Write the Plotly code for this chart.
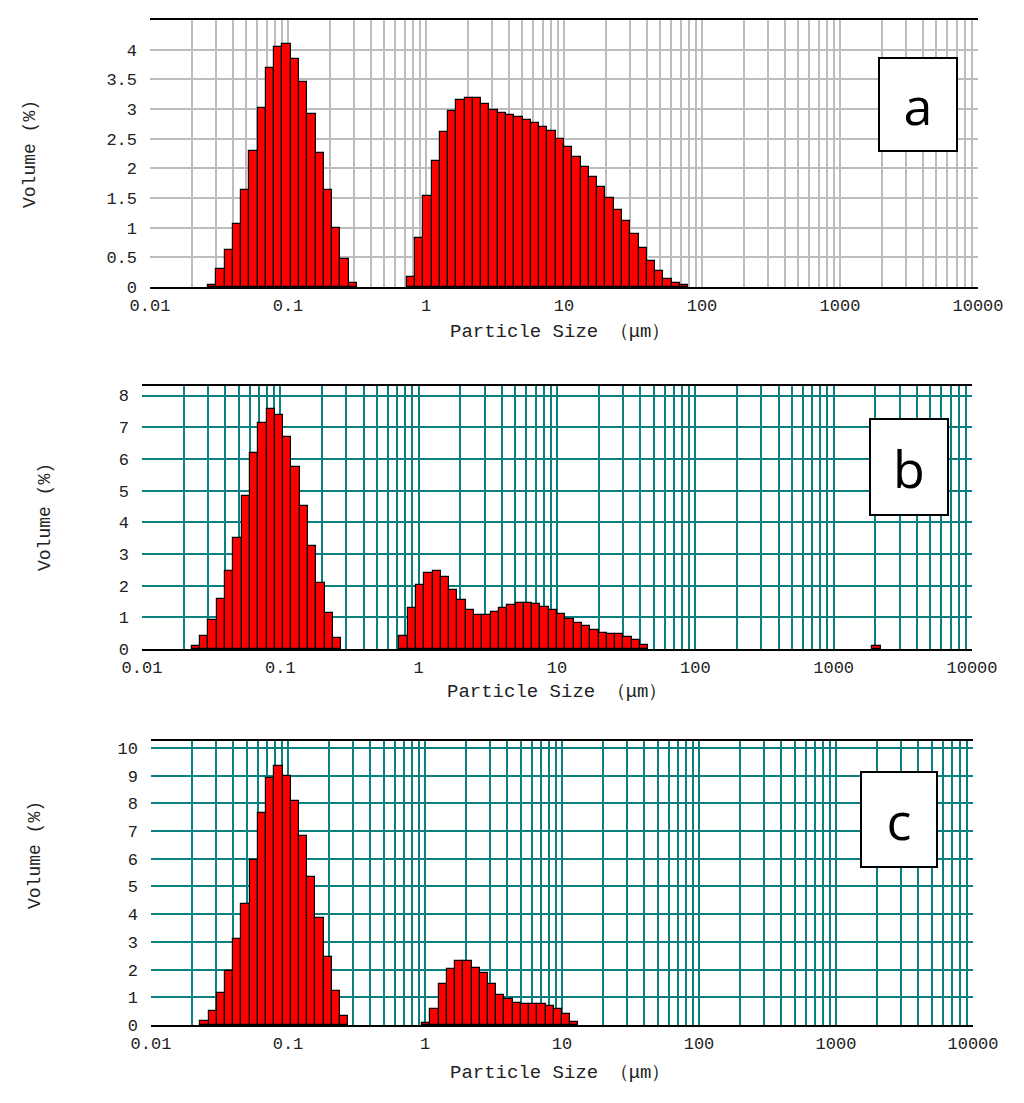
import math
import plotly.graph_objects as go

# ---- instrument size classes: 100 log-uniform bins from 0.01 to 10000 um ----
BIN_LOG_START = -2.0
BIN_LOG_STEP = 0.06
N_BINS = 100

# ---- volume (%) per size class ----
vol_a = ([0] * 7 +
         [0.03, 0.31, 0.63, 1.07, 1.63, 2.29, 3.02, 3.69, 4.04, 4.09, 3.85, 3.46,
          2.92, 2.26, 1.63, 1.00, 0.48, 0.07] +
         [0] * 6 +
         [0.17, 0.83, 1.53, 2.12, 2.62, 2.96, 3.16, 3.19, 3.19, 3.09, 2.99, 2.93,
          2.90, 2.87, 2.82, 2.76, 2.70, 2.63, 2.49, 2.36, 2.19, 2.02, 1.85, 1.69,
          1.50, 1.29, 1.12, 0.90, 0.65, 0.43, 0.27, 0.13, 0.07, 0.03] +
         [0] * 35)

vol_b = ([0] * 6 +
         [0.08, 0.40, 0.91, 1.59, 2.45, 3.51, 4.82, 6.19, 7.14, 7.56, 7.37, 6.68,
          5.75, 4.51, 3.26, 2.08, 1.14, 0.35] +
         [0] * 7 +
         [0.40, 1.28, 2.03, 2.40, 2.47, 2.26, 1.86, 1.54, 1.22, 1.08, 1.08, 1.17,
          1.29, 1.40, 1.46, 1.46, 1.41, 1.34, 1.23, 1.12, 0.96, 0.83, 0.72, 0.59,
          0.51, 0.46, 0.46, 0.38, 0.28, 0.14] +
         [0] * 27 +
         [0.08] +
         [0] * 11)

vol_c = ([0] * 6 +
         [0.16, 0.51, 1.14, 1.96, 3.11, 4.36, 5.96, 7.65, 8.92, 9.34, 8.98, 8.07,
          6.81, 5.33, 3.88, 2.45, 1.24, 0.34] +
         [0] * 9 +
         [0.08, 0.57, 1.47, 2.01, 2.31, 2.31, 2.07, 1.86, 1.47, 1.10, 0.93, 0.81,
          0.75, 0.75, 0.75, 0.69, 0.57, 0.40, 0.10] +
         [0] * 48)

panel_letters = ["a", "b", "c"]
y_max = [4.5, 8.3, 10.25]
y_ticks = [[0, 0.5, 1, 1.5, 2, 2.5, 3, 3.5, 4],
           [0, 1, 2, 3, 4, 5, 6, 7, 8],
           [0, 1, 2, 3, 4, 5, 6, 7, 8, 9, 10]]
y_ticklabels = [["0", "0.5", "1", "1.5", "2", "2.5", "3", "3.5", "4"],
                ["0", "1", "2", "3", "4", "5", "6", "7", "8"],
                ["0", "1", "2", "3", "4", "5", "6", "7", "8", "9", "10"]]
decade_labels = ["0.01", "0.1", "1", "10", "100", "1000", "10000"]
x_title = "Particle Size （μm）"
y_title = "Volume (%)"

# ---- layout geometry (pixels in a 1024 x 1103 page) ----
W, H = 1024, 1103
panels = [
    dict(x0=150, x1=978, y0=20, y1=287, grid="#bdbdbd", box=(878, 958, 57, 152),
         ytitle=(30, 154), xtitle=(560, 332)),
    dict(x0=142, x1=972, y0=386, y1=649, grid="#0b8080", box=(869, 949, 418, 516),
         ytitle=(45, 517), xtitle=(557, 692)),
    dict(x0=151, x1=973, y0=741, y1=1025, grid="#0b8080", box=(860, 938, 771, 868),
         ytitle=(35, 855), xtitle=(560, 1073)),
]

bin_centers = [BIN_LOG_START + BIN_LOG_STEP * (i + 0.5) for i in range(N_BINS)]

# log grid: 1..9 per decade
tickvals, ticktext = [], []
for e in range(-2, 4):
    for m in range(1, 10):
        tickvals.append(e + math.log10(m))
        ticktext.append(decade_labels[e + 2] if m == 1 else "")
tickvals.append(4.0)
ticktext.append(decade_labels[-1])

mono = "Liberation Mono"
fig = go.Figure()
series = [vol_a, vol_b, vol_c]

for i, (vals, p) in enumerate(zip(series, panels)):
    xs = [c for c, v in zip(bin_centers, vals) if v > 0]
    ys = [v for v in vals if v > 0]
    xa = "x" if i == 0 else f"x{i+1}"
    ya = "y" if i == 0 else f"y{i+1}"
    fig.add_trace(go.Bar(
        x=xs, y=ys, width=BIN_LOG_STEP, xaxis=xa, yaxis=ya,
        marker=dict(color="#ff0000", line=dict(color="#000000", width=1.2)),
        showlegend=False, hoverinfo="x+y"))

    xkey = "xaxis" if i == 0 else f"xaxis{i+1}"
    ykey = "yaxis" if i == 0 else f"yaxis{i+1}"
    fig.layout[xkey] = dict(
        domain=[p["x0"] / W, p["x1"] / W], anchor=ya, automargin=False,
        range=[-2, 4], tickmode="array", tickvals=tickvals, ticktext=ticktext,
        showgrid=True, gridcolor=p["grid"], gridwidth=1.6,
        showline=True, linecolor="#000000", linewidth=2, mirror=True,
        ticks="", zeroline=False, ticklabelstandoff=2,
        tickfont=dict(family=mono, size=17, color="#222222"))
    fig.layout[ykey] = dict(
        domain=[1 - p["y1"] / H, 1 - p["y0"] / H], anchor=xa, automargin=False,
        range=[0, y_max[i]], tickmode="array", tickvals=y_ticks[i],
        ticktext=y_ticklabels[i],
        showgrid=True, gridcolor=p["grid"], gridwidth=1.6,
        showline=False, zeroline=False, ticks="", ticklabelstandoff=12,
        tickfont=dict(family=mono, size=17, color="#222222"))

annotations = []
for i, p in enumerate(panels):
    bx0, bx1, by0, by1 = p["box"]
    annotations.append(dict(
        xref="paper", yref="paper", x=(bx0 + bx1) / 2 / W, y=1 - (by0 + by1) / 2 / H,
        xanchor="center", yanchor="middle", text=panel_letters[i], showarrow=False,
        width=bx1 - bx0 - 4, height=by1 - by0 - 4, bgcolor="#ffffff",
        bordercolor="#000000", borderwidth=2, borderpad=0,
        font=dict(family="Open Sans", size=52, color="#000000")))
    annotations.append(dict(
        xref="paper", yref="paper", x=p["ytitle"][0] / W, y=1 - p["ytitle"][1] / H,
        xanchor="center", yanchor="middle", text=y_title, textangle=-90,
        showarrow=False, font=dict(family=mono, size=18, color="#222222")))
    annotations.append(dict(
        xref="paper", yref="paper", x=p["xtitle"][0] / W, y=1 - p["xtitle"][1] / H,
        xanchor="center", yanchor="middle", text=x_title,
        showarrow=False, font=dict(family=mono, size=19, color="#222222")))

fig.update_layout(
    width=W, height=H, margin=dict(l=0, r=0, t=0, b=0),
    paper_bgcolor="#ffffff", plot_bgcolor="#ffffff",
    bargap=0, annotations=annotations)

fig.write_html("out.html", config={"displayModeBar": False},
               post_script="document.body.style.margin='0';"
                           "document.body.style.overflow='hidden';")
